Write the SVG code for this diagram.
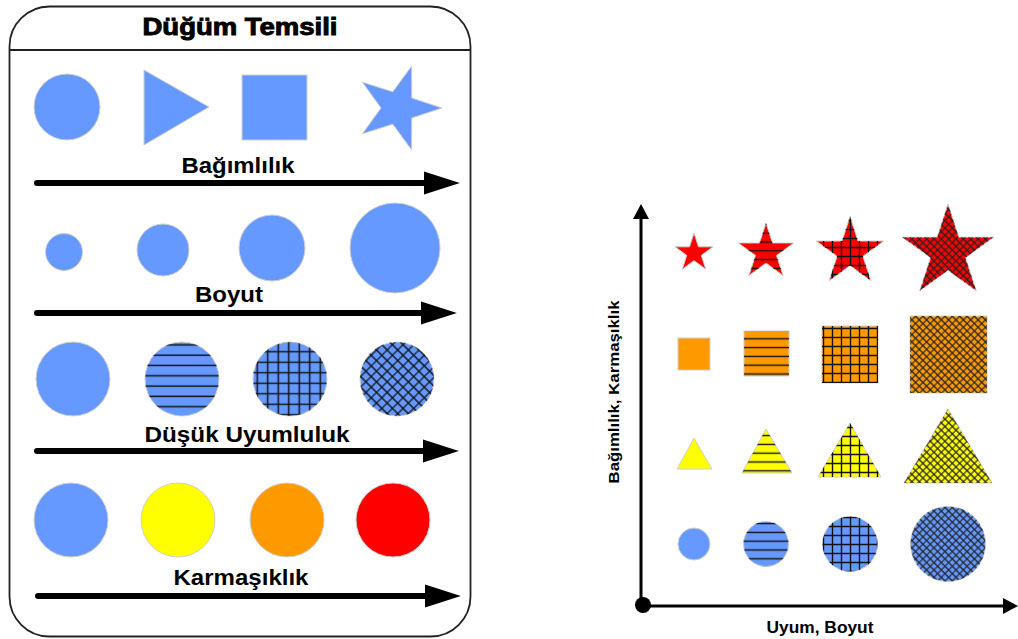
<svg xmlns="http://www.w3.org/2000/svg" width="1018" height="639" viewBox="0 0 1018 639">
  <style>
    .lbl { font-family: "Liberation Sans", Arial, sans-serif; font-weight: bold; fill: #000; text-anchor: middle; }
    .shp { stroke: #cfcfcf; stroke-width: 1; }
    .blue { fill: #6699ff; }
    .yellow { fill: #ffff00; }
    .orange { fill: #ff9900; }
    .red { fill: #ff0000; }
    .arrow { stroke: #000; stroke-width: 6; stroke-linecap: round; fill: none; }
    .axis { stroke: #000; stroke-width: 3; fill: none; }
  </style>
  <defs>
    <!-- hatch overlays, large (left panel) -->
    <pattern id="hzL" patternUnits="userSpaceOnUse" width="10" height="10.3">
      <path d="M0,5 H10" stroke="#111" stroke-width="1.5"/>
    </pattern>
    <pattern id="gridL" patternUnits="userSpaceOnUse" width="10.5" height="10.5">
      <path d="M0,5.25 H10.5 M5.25,0 V10.5" stroke="#111" stroke-width="1.5"/>
    </pattern>
    <pattern id="crossL" patternUnits="userSpaceOnUse" width="7.5" height="7.5" patternTransform="rotate(45)">
      <path d="M0,3.75 H7.5 M3.75,0 V7.5" stroke="#111" stroke-width="1.2"/>
    </pattern>
    <!-- hatch overlays, small (chart) -->
    <pattern id="hzR" patternUnits="userSpaceOnUse" width="9" height="8.8">
      <path d="M0,4.4 H9" stroke="#111" stroke-width="1.4"/>
    </pattern>
    <pattern id="gridR" patternUnits="userSpaceOnUse" width="9" height="9">
      <path d="M0,4.5 H9 M4.5,0 V9" stroke="#111" stroke-width="1.4"/>
    </pattern>
    <pattern id="crossR" patternUnits="userSpaceOnUse" width="5.2" height="5.2" patternTransform="rotate(45)">
      <path d="M0,2.6 H5.2 M2.6,0 V5.2" stroke="#222" stroke-width="1.1"/>
    </pattern>
    <marker id="head" markerUnits="userSpaceOnUse" markerWidth="36" markerHeight="24" viewBox="0 0 34 22" refX="2" refY="11" orient="auto">
      <path d="M0,0 L34,11 L0,22 z" fill="#000"/>
    </marker>
    <marker id="axhead" markerUnits="userSpaceOnUse" markerWidth="16" markerHeight="16" viewBox="0 0 15 16" refX="1" refY="8" orient="auto">
      <path d="M0,0 L15,8 L0,16 z" fill="#000"/>
    </marker>
  </defs>

  <rect width="1018" height="639" fill="#fff"/>

  <!-- legend panel -->
  <g id="legend-panel">
    <rect x="9.5" y="6.5" width="461" height="630" rx="40" ry="40" fill="#fff" stroke="#222" stroke-width="1.8"/>
    <line x1="9.5" y1="50" x2="470.5" y2="50" stroke="#222" stroke-width="1.8"/>
    <text class="lbl" x="240" y="35" font-size="23" stroke="#000" stroke-width="0.9" textLength="195" lengthAdjust="spacingAndGlyphs">Düğüm Temsili</text>
  </g>

  <!-- row: dependency (shape) -->
  <g id="row-dependency">
    <circle class="shp blue" cx="67" cy="107" r="33"/>
    <polygon class="shp blue" points="144,70 144,145 209,107"/>
    <rect class="shp blue" x="242" y="75" width="65" height="65"/>
    <polygon class="shp blue" points="442,108 411.75,118 411.6,149.85 392.75,124.17 362.4,133.86 381,108 362.4,82.14 392.75,91.83 411.6,66.15 411.75,98.01"/>
    <text class="lbl" x="238" y="173" font-size="22.5" textLength="113" lengthAdjust="spacingAndGlyphs">Bağımlılık</text>
  </g>

  <!-- row: size -->
  <g id="row-size">
    <circle class="shp blue" cx="64" cy="252" r="18.5"/>
    <circle class="shp blue" cx="163" cy="250" r="26"/>
    <circle class="shp blue" cx="272" cy="248" r="33"/>
    <circle class="shp blue" cx="395" cy="248" r="45"/>
    <text class="lbl" x="229" y="302" font-size="22.5" textLength="68" lengthAdjust="spacingAndGlyphs">Boyut</text>
  </g>

  <!-- row: low cohesion (hatching) -->
  <g id="row-cohesion">
    <circle class="shp blue" cx="73" cy="379" r="37"/>
    <circle class="shp blue" cx="182" cy="379" r="37"/>
    <circle cx="182" cy="379" r="37" fill="url(#hzL)"/>
    <circle class="shp blue" cx="290" cy="379" r="37"/>
    <circle cx="290" cy="379" r="37" fill="url(#gridL)"/>
    <circle class="shp blue" cx="397" cy="379" r="37"/>
    <circle cx="397" cy="379" r="37" fill="url(#crossL)"/>
    <text class="lbl" x="247" y="442" font-size="22.5" textLength="205" lengthAdjust="spacingAndGlyphs">Düşük Uyumluluk</text>
  </g>

  <!-- row: complexity (colour) -->
  <g id="row-complexity">
    <circle class="shp blue" cx="71" cy="520" r="37"/>
    <circle class="shp yellow" cx="178" cy="520" r="37"/>
    <circle class="shp orange" cx="287" cy="520" r="37"/>
    <circle class="shp red" cx="393" cy="520" r="37"/>
    <text class="lbl" x="241" y="585" font-size="22.5" textLength="135" lengthAdjust="spacingAndGlyphs">Karmaşıklık</text>
  </g>

  <!-- chart: stars (red) -->
  <g id="chart-stars">
    <polygon class="shp red" points="694,233 698.49,246.82 713.02,246.82 701.27,255.36 705.76,269.18 694,260.64 682.24,269.18 686.73,255.36 674.98,246.82 689.51,246.82"/>
    <g>
      <polygon class="shp red" points="766,223 772.51,243.04 793.58,243.04 776.54,255.42 783.05,275.46 766,263.08 748.95,275.46 755.46,255.42 738.42,243.04 759.49,243.04"/>
      <polygon fill="url(#hzR)" points="766,223 772.51,243.04 793.58,243.04 776.54,255.42 783.05,275.46 766,263.08 748.95,275.46 755.46,255.42 738.42,243.04 759.49,243.04"/>
    </g>
    <g>
      <polygon class="shp red" points="850,216.5 857.97,241.03 883.76,241.03 862.9,256.19 870.87,280.72 850,265.56 829.13,280.72 837.1,256.19 816.24,241.03 842.03,241.03"/>
      <polygon fill="url(#gridR)" points="850,216.5 857.97,241.03 883.76,241.03 862.9,256.19 870.87,280.72 850,265.56 829.13,280.72 837.1,256.19 816.24,241.03 842.03,241.03"/>
    </g>
    <g>
      <polygon class="shp red" points="948,204 958.78,237.17 993.65,237.17 965.44,257.66 976.21,290.83 948,270.34 919.79,290.83 930.56,257.66 902.35,237.17 937.22,237.17"/>
      <polygon fill="url(#crossR)" points="948,204 958.78,237.17 993.65,237.17 965.44,257.66 976.21,290.83 948,270.34 919.79,290.83 930.56,257.66 902.35,237.17 937.22,237.17"/>
    </g>
  </g>

  <!-- chart: squares (orange) -->
  <g id="chart-squares">
    <rect class="shp orange" x="678" y="338" width="32" height="32"/>
    <rect class="shp orange" x="744" y="331" width="45" height="45"/>
    <rect x="744" y="331" width="45" height="45" fill="url(#hzR)"/>
    <rect class="shp orange" x="822" y="326" width="56" height="57"/>
    <rect x="822" y="326" width="56" height="57" fill="url(#gridR)"/>
    <rect class="shp orange" x="910" y="316" width="77" height="77"/>
    <rect x="910" y="316" width="77" height="77" fill="url(#crossR)"/>
  </g>

  <!-- chart: triangles (yellow) -->
  <g id="chart-triangles">
    <polygon class="shp yellow" points="694,438 712,469 677,469"/>
    <polygon class="shp yellow" points="766,429 792,473 742,473"/>
    <polygon fill="url(#hzR)" points="766,429 792,473 742,473"/>
    <polygon class="shp yellow" points="850,423 881,477 818,477"/>
    <polygon fill="url(#gridR)" points="850,423 881,477 818,477"/>
    <polygon class="shp yellow" points="948,409 992,483 904,483"/>
    <polygon fill="url(#crossR)" points="948,409 992,483 904,483"/>
  </g>

  <!-- chart: circles (blue) -->
  <g id="chart-circles">
    <circle class="shp blue" cx="694" cy="544" r="16"/>
    <circle class="shp blue" cx="766" cy="544" r="22.5"/>
    <circle cx="766" cy="544" r="22.5" fill="url(#hzR)"/>
    <circle class="shp blue" cx="850" cy="544" r="27.5"/>
    <circle cx="850" cy="544" r="27.5" fill="url(#gridR)"/>
    <circle class="shp blue" cx="948" cy="544" r="37.5"/>
    <circle cx="948" cy="544" r="37.5" fill="url(#crossR)"/>
  </g>

  <!-- chart axis labels -->
  <g id="axis-labels">
    <text class="lbl" x="820" y="633" font-size="16" textLength="107" lengthAdjust="spacingAndGlyphs">Uyum, Boyut</text>
    <text class="lbl" x="0" y="0" font-size="15.5" textLength="183" lengthAdjust="spacingAndGlyphs" transform="translate(619,392) rotate(-90)">Bağımlılık, Karmaşıklık</text>
  </g>

  <!-- connectors: legend arrows and chart axes -->
  <g id="connectors">
    <line class="arrow" x1="37" y1="183" x2="426" y2="183" marker-end="url(#head)"/>
    <line class="arrow" x1="37" y1="313" x2="423" y2="313" marker-end="url(#head)"/>
    <line class="arrow" x1="37" y1="451" x2="425" y2="451" marker-end="url(#head)"/>
    <line class="arrow" x1="38" y1="596" x2="427" y2="596" marker-end="url(#head)"/>
    <line class="axis" x1="641" y1="606" x2="641" y2="218" marker-end="url(#axhead)"/>
    <line class="axis" x1="643" y1="606" x2="1004" y2="606" marker-end="url(#axhead)"/>
    <circle cx="643" cy="605" r="8" fill="#000"/>
  </g>
</svg>
